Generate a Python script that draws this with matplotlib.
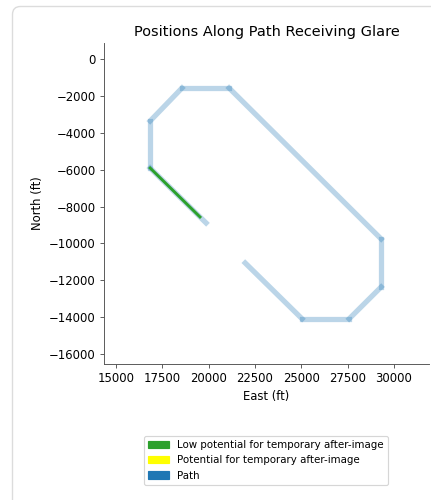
import matplotlib
matplotlib.use('Agg')
import matplotlib.pyplot as plt
from matplotlib.patches import Patch, FancyBboxPatch

# path vertices (ft)
path_east = [19860, 16840, 16840, 18560, 21100, 29310, 29310, 27580, 25040, 21970]
path_north = [-8890, -5910, -3360, -1570, -1570, -9760, -12360, -14090, -14090, -11060]

# part of the path that gets glare
glare_east = [16840, 19530]
glare_north = [-5910, -8565]

legend_labels = ['Low potential for temporary after-image',
                 'Potential for temporary after-image',
                 'Path']
legend_colors = ['tab:green', 'yellow', 'tab:blue']

dpi = 84
fig = plt.figure(figsize=(431 / dpi, 500 / dpi), dpi=dpi)

# card border from the screenshot
card = FancyBboxPatch((12.5, -30), 480, 500 - 6.5 + 30,
                      boxstyle='round,pad=0,rounding_size=8',
                      transform=None, facecolor='none',
                      edgecolor='#dcdcdc', linewidth=1.2)
fig.patches.append(card)

ax = fig.add_axes([104 / 431, 136 / 500, 325 / 431, 321 / 500])

for i in range(len(path_east) - 1):
    ax.plot(path_east[i:i + 2], path_north[i:i + 2], color='tab:blue',
            alpha=0.3, linewidth=4.5)
ax.plot(glare_east, glare_north, color='tab:green', linewidth=2.5)

ax.set_xlim(14350, 31890)
ax.set_ylim(-16540, 870)
ax.set_xticks([15000, 17500, 20000, 22500, 25000, 27500, 30000])
ax.set_yticks(range(-16000, 1, 2000))
ax.spines['top'].set_visible(False)
ax.spines['right'].set_visible(False)
for s in ['left', 'bottom']:
    ax.spines[s].set_color('#555555')
ax.tick_params(color='#555555')
ax.set_xlabel('East (ft)')
ax.set_ylabel('North (ft)')
ax.set_title('Positions Along Path Receiving Glare', fontsize=12.4)

handles = [Patch(color=c, label=l) for c, l in zip(legend_colors, legend_labels)]
fig.legend(handles=handles, loc='upper center', fontsize=8.8,
           bbox_to_anchor=(266 / 431, 1 - 431 / 500))

fig.savefig('out.png', dpi=dpi)
